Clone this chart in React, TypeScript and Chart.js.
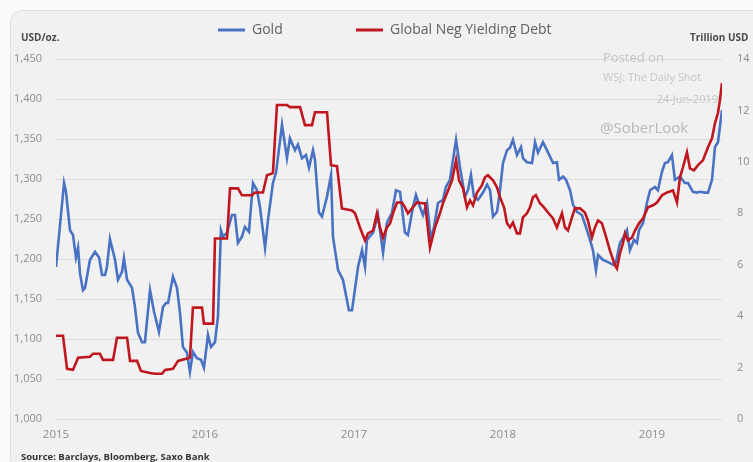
import React, { useEffect, useRef } from "react";
import { Chart, registerables } from "chart.js";

Chart.register(...registerables);

// Gold price, USD/oz. (x = decimal year)
const goldDates = [
  2015.0, 2015.054, 2015.067, 2015.094, 2015.114, 2015.134, 2015.148, 2015.161, 2015.181, 2015.195,
  2015.228, 2015.262, 2015.289, 2015.309, 2015.329, 2015.342, 2015.362, 2015.396, 2015.416, 2015.443,
  2015.456, 2015.477, 2015.51, 2015.53, 2015.55, 2015.577, 2015.597, 2015.631, 2015.658, 2015.691,
  2015.718, 2015.738, 2015.752, 2015.785, 2015.812, 2015.832, 2015.852, 2015.879, 2015.899, 2015.919,
  2015.946, 2015.973, 2015.993, 2016.02, 2016.04, 2016.067, 2016.087, 2016.107, 2016.121, 2016.148,
  2016.181, 2016.201, 2016.221, 2016.248, 2016.268, 2016.295, 2016.322, 2016.349, 2016.369, 2016.403,
  2016.423, 2016.456, 2016.477, 2016.517, 2016.55, 2016.57, 2016.604, 2016.624, 2016.651, 2016.678,
  2016.698, 2016.725, 2016.738, 2016.765, 2016.785, 2016.819, 2016.846, 2016.859, 2016.893, 2016.926,
  2016.966, 2016.987, 2017.027, 2017.054, 2017.074, 2017.087, 2017.128, 2017.161, 2017.195, 2017.221,
  2017.255, 2017.282, 2017.309, 2017.342, 2017.362, 2017.396, 2017.416, 2017.443, 2017.463, 2017.49,
  2017.517, 2017.537, 2017.564, 2017.597, 2017.617, 2017.644, 2017.685, 2017.711, 2017.745, 2017.765,
  2017.785, 2017.805, 2017.832, 2017.866, 2017.893, 2017.913, 2017.933, 2017.96, 2017.98, 2018.0,
  2018.027, 2018.047, 2018.067, 2018.094, 2018.121, 2018.134, 2018.161, 2018.195, 2018.215, 2018.235,
  2018.268, 2018.295, 2018.336, 2018.362, 2018.376, 2018.403, 2018.423, 2018.45, 2018.47, 2018.497,
  2018.53, 2018.557, 2018.584, 2018.604, 2018.624, 2018.638, 2018.671, 2018.705, 2018.738, 2018.758,
  2018.785, 2018.805, 2018.832, 2018.852, 2018.879, 2018.899, 2018.913, 2018.94, 2018.966, 2018.987,
  2019.02, 2019.04, 2019.067, 2019.087, 2019.107, 2019.134, 2019.154, 2019.188, 2019.221, 2019.242,
  2019.275, 2019.302, 2019.322, 2019.356, 2019.376, 2019.403, 2019.423, 2019.443, 2019.47,
];
const goldValues = [
  1190, 1295, 1284, 1236, 1230, 1202, 1214, 1182, 1161, 1164,
  1199, 1209, 1202, 1180, 1180, 1190, 1225, 1199, 1174, 1184,
  1201, 1174, 1164, 1140, 1108, 1096, 1096, 1161, 1134, 1109,
  1140, 1145, 1145, 1178, 1164, 1133, 1090, 1083, 1059, 1084,
  1076, 1074, 1064, 1105, 1090, 1096, 1128, 1236, 1228, 1233,
  1255, 1255, 1220, 1228, 1240, 1234, 1295, 1286, 1265, 1214,
  1249, 1295, 1308, 1368, 1326, 1351, 1336, 1343, 1326, 1330,
  1314, 1336, 1324, 1258, 1253, 1278, 1305, 1228, 1186, 1174,
  1136, 1136, 1190, 1211, 1190, 1224, 1233, 1255, 1208, 1245,
  1258, 1286, 1284, 1233, 1230, 1265, 1280, 1265, 1255, 1270,
  1224, 1240, 1270, 1274, 1290, 1299, 1349, 1315, 1278, 1286,
  1305, 1278, 1274, 1283, 1293, 1286, 1253, 1259, 1286, 1320,
  1336, 1339, 1349, 1330, 1340, 1326, 1321, 1320, 1346, 1333,
  1346, 1336, 1320, 1321, 1299, 1303, 1299, 1286, 1268, 1259,
  1255, 1240, 1224, 1211, 1186, 1205, 1199, 1196, 1193, 1196,
  1220, 1226, 1236, 1211, 1224, 1220, 1236, 1245, 1270, 1286,
  1290, 1286, 1309, 1320, 1321, 1330, 1299, 1303, 1295, 1295,
  1284, 1283, 1284, 1283, 1283, 1299, 1340, 1346, 1386,
];

// Global negative yielding debt, trillion USD
const debtDates = [
  2015.0, 2015.047, 2015.074, 2015.114, 2015.148, 2015.228, 2015.248, 2015.295, 2015.315, 2015.383,
  2015.409, 2015.477, 2015.497, 2015.544, 2015.57, 2015.631, 2015.664, 2015.711, 2015.732, 2015.785,
  2015.819, 2015.899, 2015.919, 2015.98, 2015.993, 2016.054, 2016.067, 2016.148, 2016.168, 2016.221,
  2016.248, 2016.315, 2016.336, 2016.389, 2016.416, 2016.456, 2016.483, 2016.55, 2016.57, 2016.638,
  2016.671, 2016.718, 2016.738, 2016.819, 2016.846, 2016.886, 2016.919, 2016.987, 2017.007, 2017.04,
  2017.074, 2017.094, 2017.128, 2017.154, 2017.174, 2017.195, 2017.221, 2017.242, 2017.262, 2017.289,
  2017.322, 2017.342, 2017.362, 2017.389, 2017.423, 2017.456, 2017.477, 2017.51, 2017.544, 2017.577,
  2017.597, 2017.624, 2017.658, 2017.685, 2017.705, 2017.732, 2017.758, 2017.779, 2017.799, 2017.826,
  2017.859, 2017.879, 2017.899, 2017.933, 2017.96, 2017.98, 2018.007, 2018.027, 2018.047, 2018.067,
  2018.094, 2018.114, 2018.134, 2018.161, 2018.181, 2018.201, 2018.221, 2018.248, 2018.275, 2018.302,
  2018.336, 2018.362, 2018.396, 2018.416, 2018.436, 2018.463, 2018.483, 2018.517, 2018.55, 2018.57,
  2018.597, 2018.617, 2018.638, 2018.664, 2018.685, 2018.718, 2018.752, 2018.765, 2018.785, 2018.805,
  2018.819, 2018.839, 2018.866, 2018.886, 2018.913, 2018.94, 2018.973, 2019.007, 2019.034, 2019.067,
  2019.101, 2019.141, 2019.168, 2019.188, 2019.208, 2019.235, 2019.255, 2019.282, 2019.309, 2019.342,
  2019.376, 2019.403, 2019.423, 2019.443, 2019.456, 2019.47,
];
const debtValues = [
  3.24, 3.24, 1.95, 1.91, 2.38, 2.42, 2.54, 2.54, 2.3, 2.3,
  3.16, 3.16, 2.26, 2.26, 1.87, 1.79, 1.76, 1.76, 1.91, 1.95,
  2.26, 2.38, 4.33, 4.33, 3.71, 3.71, 7.02, 7.02, 8.97, 8.97,
  8.7, 8.7, 8.81, 8.81, 9.48, 9.56, 12.21, 12.21, 12.13, 12.13,
  11.43, 11.43, 11.93, 11.93, 9.87, 9.83, 8.19, 8.11, 8.0, 7.45,
  6.94, 7.22, 7.33, 8.0, 7.45, 7.06, 7.45, 7.61, 8.0, 8.42,
  8.42, 8.23, 8.0, 8.19, 8.42, 8.39, 8.39, 6.67, 7.45, 8.0,
  8.39, 8.78, 9.28, 10.06, 9.28, 8.97, 8.23, 8.5, 8.31, 8.81,
  9.09, 9.4, 9.48, 9.28, 9.01, 8.62, 8.23, 7.61, 7.45, 7.64,
  7.22, 7.22, 7.84, 8.0, 8.23, 8.62, 8.7, 8.39, 8.23, 8.03,
  7.8, 7.45, 8.0, 7.45, 7.33, 7.84, 8.19, 8.19, 8.03, 7.72,
  7.06, 7.45, 7.72, 7.61, 7.22, 6.55, 5.97, 5.85, 6.44, 6.83,
  7.22, 6.94, 7.06, 7.33, 7.61, 7.8, 8.23, 8.31, 8.42, 8.7,
  8.81, 8.89, 8.42, 9.4, 9.79, 10.37, 9.75, 9.67, 9.87, 10.06,
  10.57, 10.92, 11.51, 11.9, 12.4, 13.07,
];

const yearTicks = [2015, 2016, 2017, 2018, 2019];
const goldAxis = { min: 1000, max: 1450, step: 50 };
const debtAxis = { min: 0, max: 14, step: 2 };
const xRange = { min: 2015, max: 2019.47 };

const seriesNames = ["Gold", "Global Neg Yielding Debt"];
const watermark = ["Posted on", "WSJ: The Daily Shot", "24-Jun-2019", "@SoberLook"];
const sourceText = "Source: Barclays, Bloomberg, Saxo Bank";

const BLUE = "#4a72c2";
const RED = "#c0161e";
const FONT = "'Open Sans', 'DejaVu Sans', sans-serif";

export default function App() {
  const canvasRef = useRef<HTMLCanvasElement | null>(null);

  useEffect(() => {
    const canvas = canvasRef.current;
    if (!canvas) return;

    const decor = {
      id: "decor",
      beforeDatasetsDraw(chart: any) {
        const ctx = chart.ctx;
        ctx.save();
        ctx.fillStyle = "#c4c4c4";
        ctx.textBaseline = "middle";
        ctx.textAlign = "left";
        ctx.font = `13px ${FONT}`;
        ctx.fillText(watermark[0], 603, 58);
        ctx.font = `11px ${FONT}`;
        ctx.fillText(watermark[1], 603, 78);
        ctx.textAlign = "right";
        ctx.fillText(watermark[2], 718, 100);
        ctx.textAlign = "left";
        ctx.fillStyle = "#b8b8b8";
        ctx.font = `15px ${FONT}`;
        ctx.fillText(watermark[3], 600, 129);
        ctx.restore();
      },
      afterDraw(chart: any) {
        const ctx = chart.ctx;
        ctx.save();
        // legend
        ctx.lineWidth = 3;
        ctx.strokeStyle = BLUE;
        ctx.beginPath();
        ctx.moveTo(218, 30);
        ctx.lineTo(245, 30);
        ctx.stroke();
        ctx.strokeStyle = RED;
        ctx.beginPath();
        ctx.moveTo(356, 30);
        ctx.lineTo(383, 30);
        ctx.stroke();
        ctx.fillStyle = "#606060";
        ctx.font = `14px ${FONT}`;
        ctx.textBaseline = "middle";
        ctx.textAlign = "left";
        ctx.fillText(seriesNames[0], 252, 30);
        ctx.fillText(seriesNames[1], 390, 30);
        // axis titles
        ctx.fillStyle = "#4a4a4a";
        ctx.font = `bold 10px ${FONT}`;
        ctx.fillText("USD/oz.", 21, 38);
        ctx.fillText("Trillion USD", 690, 38);
        // source
        ctx.fillStyle = "#333";
        ctx.font = `bold 9.5px ${FONT}`;
        ctx.fillText(sourceText, 21, 457);
        ctx.restore();
      },
    };

    const chart = new Chart(canvas, {
      type: "line",
      data: {
        datasets: [
          {
            label: seriesNames[0],
            data: goldDates.map((x, i) => ({ x, y: goldValues[i] })),
            borderColor: BLUE,
            borderWidth: 2.6,
            pointRadius: 0,
            tension: 0,
            yAxisID: "y",
            order: 1,
          },
          {
            label: seriesNames[1],
            data: debtDates.map((x, i) => ({ x, y: debtValues[i] })),
            borderColor: RED,
            borderWidth: 2.6,
            pointRadius: 0,
            tension: 0,
            yAxisID: "y2",
            order: 0,
          },
        ],
      },
      options: {
        responsive: false,
        animation: false,
        events: [],
        layout: { padding: { left: 14, right: 0, top: 59, bottom: 0 } },
        plugins: { legend: { display: false }, tooltip: { enabled: false } },
        scales: {
          x: {
            type: "linear",
            min: xRange.min,
            max: xRange.max,
            grid: { display: false, drawTicks: false },
            border: { display: false },
            afterBuildTicks: (scale: any) => {
              scale.ticks = yearTicks.map((v) => ({ value: v }));
            },
            afterFit: (scale: any) => {
              scale.height = 43;
            },
            ticks: {
              padding: 9,
              color: "#8c8c8c",
              font: { family: FONT, size: 11.5 },
              maxRotation: 0,
              autoSkip: false,
              callback: (v: any) => String(v),
            },
          },
          y: {
            position: "left",
            min: goldAxis.min,
            max: goldAxis.max,
            grid: { color: "#dcdcdc", lineWidth: 1, drawTicks: false },
            border: { display: false },
            afterFit: (scale: any) => {
              scale.width = 42;
            },
            ticks: {
              stepSize: goldAxis.step,
              crossAlign: "far",
              color: "#8c8c8c",
              font: { family: FONT, size: 11 },
              callback: (v: any) => Number(v).toLocaleString("en-US"),
            },
          },
          y2: {
            position: "right",
            min: debtAxis.min,
            max: debtAxis.max,
            grid: { display: false, drawTicks: false },
            border: { display: false },
            afterFit: (scale: any) => {
              scale.width = 31;
            },
            ticks: {
              stepSize: debtAxis.step,
              padding: 15,
              crossAlign: "near",
              color: "#8c8c8c",
              font: { family: FONT, size: 11 },
            },
          },
        },
      },
      plugins: [decor],
    } as any);

    return () => chart.destroy();
  }, []);

  return (
    <div
      style={{
        position: "fixed",
        left: 0,
        top: 0,
        width: 753,
        height: 462,
        background: "#fafafa",
        overflow: "hidden",
      }}
    >
      <div
        style={{
          position: "absolute",
          left: 10,
          top: 10,
          width: 760,
          height: 460,
          background: "#f1f1f1",
          border: "1px solid #e0e0e0",
          borderRadius: 12,
        }}
      />
      <canvas
        ref={canvasRef}
        width={753}
        height={462}
        style={{ position: "absolute", left: 0, top: 0, width: 753, height: 462 }}
      />
    </div>
  );
}
